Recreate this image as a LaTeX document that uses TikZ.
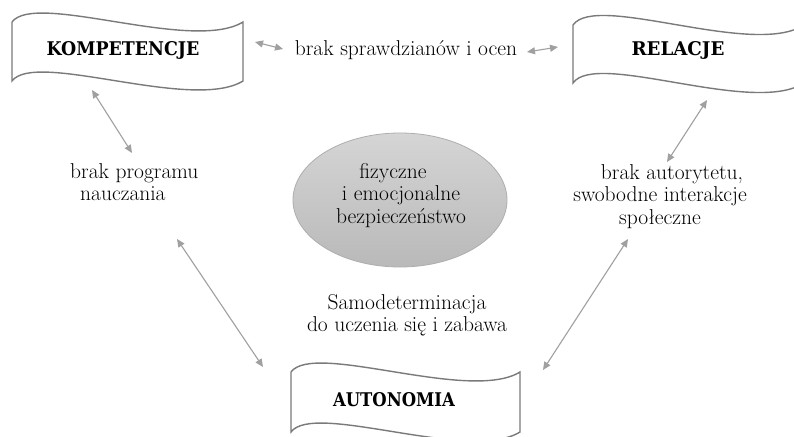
\documentclass[tikz,border=0pt]{standalone}
\usepackage{fontspec}
\usepackage{graphicx}
\newfontfamily\capsfont{DejaVu Serif}
\usetikzlibrary{arrows.meta,shapes.geometric}
\definecolor{arrowgray}{HTML}{A0A0A0}
\definecolor{bannergray}{HTML}{7A7A7A}
\definecolor{ellborder}{HTML}{AEAEAE}
\newcommand\wavebanner[5]{% x0 y0 w h k
  \draw[bannerline] (#1,#2) .. controls ({#1+0.1*#3},{#2-#5}) and ({#1+0.78*#3},{#2+#5}) .. ({#1+#3},#2)
    -- ({#1+#3},{#2+#4}) .. controls ({#1+0.78*#3},{#2+#4+#5}) and ({#1+0.1*#3},{#2+#4-#5}) .. (#1,{#2+#4}) -- cycle;}
\tikzset{
  lbl/.style={font=\fontsize{21.5}{22.7}\selectfont, inner sep=0pt, align=center},
  conn/.style={draw=arrowgray, line width=1.1pt, {Triangle[length=8pt,width=7pt]}-{Triangle[length=8pt,width=7pt]}},
  bannerline/.style={draw=bannergray, line width=1.4pt, fill=white},
  hd/.style={inner sep=0pt, font=\capsfont\bfseries},
  safebox/.style={ellipse, draw=ellborder, line width=0.8pt, top color=gray!33, bottom color=gray!55, minimum width=214pt, minimum height=134pt, inner sep=0pt}
}
\begin{document}
\begin{tikzpicture}[x=1pt,y=-1pt]
\useasboundingbox (0,0) rectangle (794,436);
\fill[white] (0,0) rectangle (794,436);
\clip (0,0) rectangle (794,436);
% banners
\wavebanner{12}{22}{231}{59}{31}
\wavebanner{573}{25}{231}{58}{33}
\wavebanner{291}{372}{229}{60}{31}
\node[hd] (kom) at (123,50) {\resizebox{153pt}{14pt}{KOMPETENCJE}};
\node[hd] (rel) at (678,50) {\resizebox{93pt}{14pt}{RELACJE}};
\node[hd] (aut) at (394,400) {\resizebox{122pt}{14pt}{AUTONOMIA}};
% ellipse
\node[safebox] (safe) at (400,200) {};
\node[lbl, anchor=north] (safetxt) at (401,162.8) {fizyczne\hspace*{16pt}\\i emocjonalne\\bezpieczeństwo};
% texts
\node[lbl, anchor=base] (oceny) at (406,56) {brak sprawdzianów i ocen};
\node[lbl, anchor=north west, align=left] (prog) at (70,163.1) {brak programu\\\hspace*{10pt}nauczania};
\node[lbl, anchor=north] (autor) at (660,164.1) {\hspace*{24pt}brak autorytetu,\\swobodne interakcje\\społeczne};
\node[lbl, anchor=north] (samo) at (407,293.8) {Samodeterminacja\\do uczenia się i zabawa};
% connector end points
\coordinate (a1s) at (255,42); \coordinate (a1e) at (283,49);
\coordinate (a2s) at (527,52); \coordinate (a2e) at (558,47);
\coordinate (a3s) at (92,90);  \coordinate (a3e) at (132,153);
\coordinate (a4s) at (177,239); \coordinate (a4e) at (263,367);
\coordinate (a5s) at (707,100); \coordinate (a5e) at (667,162);
\coordinate (a6s) at (628,239); \coordinate (a6e) at (543,370);
\draw[conn] (a1s) -- (a1e);
\draw[conn] (a2s) -- (a2e);
\draw[conn] (a3s) -- (a3e);
\draw[conn] (a4s) -- (a4e);
\draw[conn] (a5s) -- (a5e);
\draw[conn] (a6s) -- (a6e);
\end{tikzpicture}
\end{document}
